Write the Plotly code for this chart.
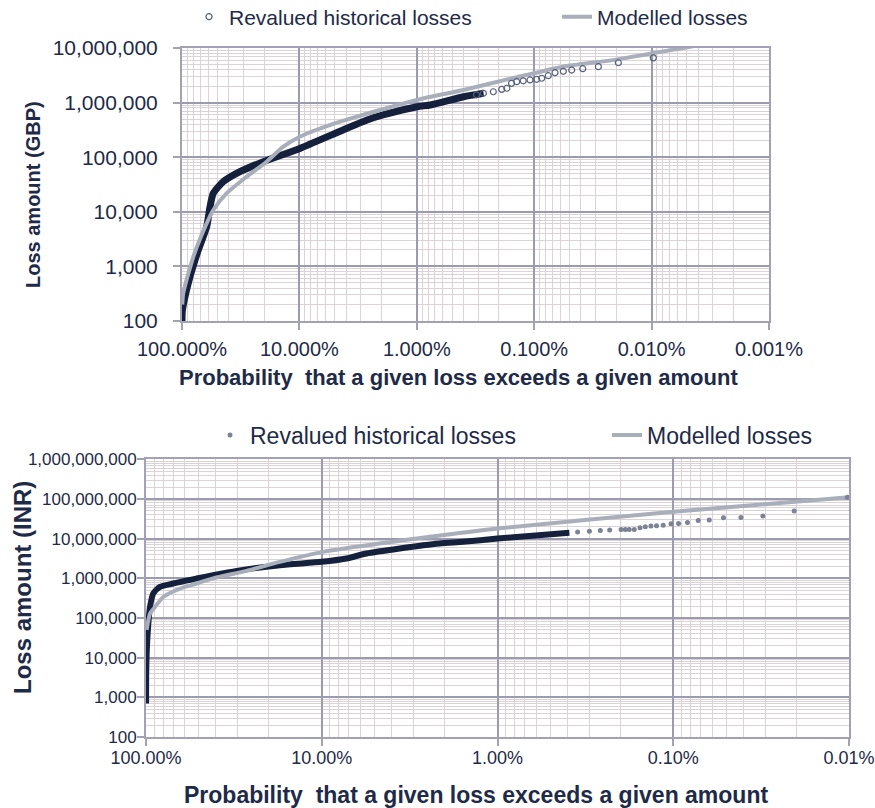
import plotly.graph_objects as go

# ---------------- GBP portfolio (upper panel) ----------------
# Exceedance probability in percent, loss amount in GBP
gbp_hist_body_prob = [99.95, 99.5, 94.3, 85.5, 72.6, 61.6, 57.7, 54.1, 44.5, 32.1,
                      20.3, 9.9, 4.5, 2.65, 1.94, 0.99, 0.767, 0.40, 0.27]
gbp_hist_body_loss = [95, 150, 279, 646, 2000, 5370, 12400, 21900, 35600, 54300,
                      82800, 145000, 300000, 480000, 593000, 841000, 903000, 1280000, 1480000]

gbp_hist_tail_prob = [0.31, 0.271, 0.223, 0.189, 0.171, 0.156, 0.141, 0.124, 0.1086,
                      0.0953, 0.0863, 0.0759, 0.0665, 0.0565, 0.0479, 0.0386, 0.0284,
                      0.0192, 0.00966]
gbp_hist_tail_loss = [1390000, 1480000, 1580000, 1750000, 1830000, 2250000, 2420000,
                      2510000, 2600000, 2670000, 2790000, 3110000, 3530000, 3740000,
                      3950000, 4180000, 4550000, 5370000, 6600000]

gbp_model_prob = [99.5, 97.5, 80.1, 61.6, 54.1, 41.6, 28.1, 19.0, 13.7, 9.9, 4.5,
                  1.0, 0.4, 0.151, 0.0569, 0.0214, 0.0054, 0.003]
gbp_model_loss = [200, 326, 1500, 6160, 10800, 21900, 44000, 82800, 156000, 237000,
                  447000, 1120000, 1700000, 2820000, 4550000, 6000000, 10000000, 12500000]

gbp_x_ticks = [100, 10, 1, 0.1, 0.01, 0.001]
gbp_x_labels = ["100.000%", "10.000%", "1.000%", "0.100%", "0.010%", "0.001%"]
gbp_y_ticks = [100, 1000, 10000, 100000, 1000000, 10000000]
gbp_y_labels = ["100", "1,000", "10,000", "100,000", "1,000,000", "10,000,000"]

# ---------------- INR portfolio (lower panel) ----------------
inr_hist_body_prob = [99.95, 99.8, 99.0, 97.0, 94.9, 90.9, 83.3, 70.0, 51.5, 41.5,
                      30.5, 17.3, 10.0, 7.24, 5.57, 3.6, 2.14, 1.57, 1.0, 0.66, 0.39]
inr_hist_body_loss = [700, 3200, 15300, 72000, 190000, 417000, 607000, 741000, 989000,
                      1200000, 1540000, 2140000, 2600000, 3160000, 4230000, 5660000,
                      7560000, 8300000, 10100000, 11600000, 14000000]

inr_hist_tail_prob = [0.35, 0.30, 0.26, 0.23, 0.198, 0.1875, 0.178, 0.1667, 0.1546,
                      0.1442, 0.134, 0.1245, 0.114, 0.103, 0.0933, 0.083, 0.0721,
                      0.0624, 0.0518, 0.0412, 0.0309, 0.0205, 0.0102]
inr_hist_tail_loss = [14600000, 15300000, 16000000, 16600000, 17100000, 17100000,
                      17100000, 17100000, 18700000, 19900000, 20700000, 21000000,
                      21900000, 23700000, 24200000, 25600000, 28800000, 29300000,
                      33500000, 34300000, 37100000, 49400000, 110000000]

inr_model_prob = [99.2, 94.9, 88.9, 79.8, 64.1, 51.5, 41.5, 26.8, 17.3, 9.8, 2.43,
                  1.0, 0.1, 0.01]
inr_model_loss = [50000, 129000, 190000, 339000, 552000, 741000, 1000000, 1540000,
                  2600000, 4640000, 11100000, 18100000, 47500000, 110000000]

inr_x_ticks = [100, 10, 1, 0.1, 0.01]
inr_x_labels = ["100.00%", "10.00%", "1.00%", "0.10%", "0.01%"]
inr_y_ticks = [100, 1000, 10000, 100000, 1000000, 10000000, 100000000, 1000000000]
inr_y_labels = ["100", "1,000", "10,000", "100,000", "1,000,000", "10,000,000",
                "100,000,000", "1,000,000,000"]

# ---------------- styling ----------------
W, H = 875, 808
FONT = "Liberation Sans, Arial, sans-serif"
TEXT = "#1e2a48"
DARK = "#15203d"
GREY = "#a9aebb"
MAJOR_GRID = "#9a9ab0"
MINOR_GRID = "#dcd3d7"
FRAME = "#a2a2b4"


def minor_vals(lo_exp, hi_exp):
    return [d * 10 ** k for k in range(lo_exp, hi_exp) for d in range(2, 10)]


def px_x(p):
    return p / W


def px_y(p):
    return 1 - p / H


fig = go.Figure()

# upper panel traces
fig.add_trace(go.Scatter(x=gbp_hist_body_prob, y=gbp_hist_body_loss, mode="lines",
                         line=dict(color=DARK, width=7, shape="spline", smoothing=0.6),
                         showlegend=False, xaxis="x", yaxis="y", hoverinfo="skip"))
fig.add_trace(go.Scatter(x=gbp_model_prob, y=gbp_model_loss, mode="lines",
                         line=dict(color=GREY, width=4, shape="spline", smoothing=0.6),
                         name="Modelled losses", legend="legend2", xaxis="x", yaxis="y"))
fig.add_trace(go.Scatter(x=gbp_hist_tail_prob, y=gbp_hist_tail_loss, mode="markers",
                         marker=dict(symbol="circle-open", size=6, color="#55607a",
                                     line=dict(width=1.2)),
                         name="Revalued historical losses", legend="legend",
                         xaxis="x", yaxis="y", cliponaxis=False))

# lower panel traces
fig.add_trace(go.Scatter(x=inr_hist_body_prob, y=inr_hist_body_loss, mode="lines",
                         line=dict(color=DARK, width=6, shape="spline", smoothing=0.6),
                         showlegend=False, xaxis="x2", yaxis="y2", hoverinfo="skip"))
fig.add_trace(go.Scatter(x=inr_model_prob, y=inr_model_loss, mode="lines",
                         line=dict(color=GREY, width=4, shape="spline", smoothing=0.6),
                         name="Modelled losses", legend="legend4", xaxis="x2", yaxis="y2"))
fig.add_trace(go.Scatter(x=inr_hist_tail_prob, y=inr_hist_tail_loss, mode="markers",
                         marker=dict(symbol="circle", size=5, color="#7c8396"),
                         name="Revalued historical losses", legend="legend3",
                         xaxis="x2", yaxis="y2", cliponaxis=False))


def log_axis(domain, rng, ticks, labels, minor, size, standoff, anchor):
    return dict(
        type="log", domain=domain, range=rng, anchor=anchor, automargin=False,
        tickmode="array", tickvals=ticks, ticktext=labels,
        tickfont=dict(family=FONT, size=size, color=TEXT),
        ticks="outside", ticklen=7, tickcolor=FRAME, tickwidth=1.5,
        ticklabelstandoff=standoff,
        showgrid=True, gridcolor=MAJOR_GRID, gridwidth=1.5,
        minor=dict(tickmode="array", tickvals=minor, showgrid=True,
                   gridcolor=MINOR_GRID, gridwidth=1, ticks=""),
        showline=True, linecolor=FRAME, linewidth=2, mirror=True,
        zeroline=False,
    )


fig.update_layout(
    width=W, height=H,
    margin=dict(l=0, r=0, t=0, b=0, autoexpand=False),
    paper_bgcolor="white", plot_bgcolor="white",
    font=dict(family=FONT, color=TEXT),
    xaxis=log_axis([px_x(182), px_x(769)], [2, -3], gbp_x_ticks, gbp_x_labels,
                   minor_vals(-3, 2), 20, 2, "y"),
    yaxis=log_axis([px_y(321), px_y(48)], [2, 7], gbp_y_ticks, gbp_y_labels,
                   minor_vals(2, 7), 21, 11, "x"),
    xaxis2=log_axis([px_x(146), px_x(849)], [2, -2], inr_x_ticks, inr_x_labels,
                    minor_vals(-2, 2), 18, -4, "y2"),
    yaxis2=log_axis([px_y(737), px_y(459.3)], [2, 9], inr_y_ticks, inr_y_labels,
                    minor_vals(2, 9), 17, -3, "x2"),
    showlegend=True,
)

legend_common = dict(bgcolor="rgba(0,0,0,0)", borderwidth=0, yanchor="middle",
                     xanchor="left", orientation="h")
fig.update_layout(
    legend=dict(x=px_x(189), y=px_y(17), font=dict(family=FONT, size=21, color=TEXT),
                **legend_common),
    legend2=dict(x=px_x(557), y=px_y(17), font=dict(family=FONT, size=21, color=TEXT),
                 **legend_common),
    legend3=dict(x=px_x(210), y=px_y(435), font=dict(family=FONT, size=23, color=TEXT),
                 **legend_common),
    legend4=dict(x=px_x(607), y=px_y(435), font=dict(family=FONT, size=23, color=TEXT),
                 **legend_common),
)

title_font_top = dict(family=FONT, size=20, color=TEXT)
fig.add_annotation(text="<b>Loss amount (GBP)</b>", x=px_x(33), y=px_y(195),
                   xref="paper", yref="paper", showarrow=False, textangle=-90,
                   font=title_font_top, xanchor="center", yanchor="middle")
fig.add_annotation(text="<b>Probability  that a given loss exceeds a given amount</b>",
                   x=px_x(458), y=px_y(377), xref="paper", yref="paper",
                   showarrow=False, font=dict(family=FONT, size=22, color=TEXT),
                   xanchor="center", yanchor="middle")
fig.add_annotation(text="<b>Loss amount (INR)</b>", x=px_x(22), y=px_y(588),
                   xref="paper", yref="paper", showarrow=False, textangle=-90,
                   font=dict(family=FONT, size=24, color=TEXT),
                   xanchor="center", yanchor="middle")
fig.add_annotation(text="<b>Probability  that a given loss exceeds a given amount</b>",
                   x=px_x(476), y=px_y(795), xref="paper", yref="paper",
                   showarrow=False, font=dict(family=FONT, size=23, color=TEXT),
                   xanchor="center", yanchor="middle")

fig.write_html("out.html")
